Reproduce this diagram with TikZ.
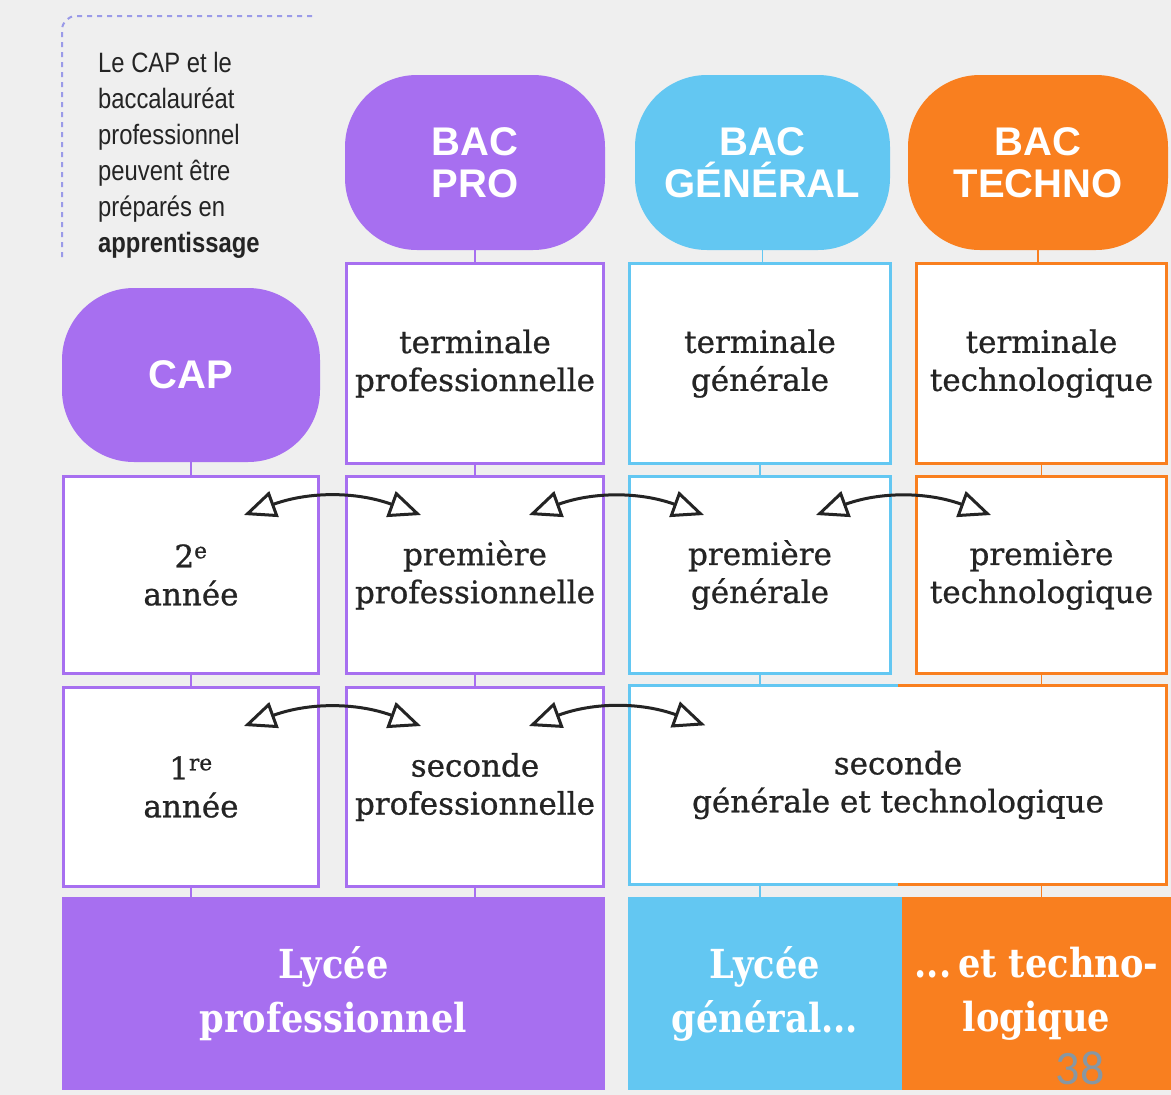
\documentclass[tikz,border=0pt]{standalone}
\usepackage{fontspec}
\usetikzlibrary{arrows.meta,calc}
\setmainfont{DejaVu Serif}[FakeBold=0.8]
\newfontfamily\notefont{Liberation Sans}[FakeStretch=0.85]
\newfontfamily\bubblefont{Liberation Sans}
\newfontfamily\bandfont{DejaVu Serif}[FakeStretch=0.88]
\newfontfamily\pagefont{Carlito}
\definecolor{propurple}{HTML}{A76FF0}
\definecolor{genblue}{HTML}{63C7F2}
\definecolor{techorange}{HTML}{F97F1F}
\definecolor{bggrey}{HTML}{EFEFEF}
\definecolor{inkgrey}{HTML}{242424}
\definecolor{pagegrey}{HTML}{8797A3}
\definecolor{notedash}{HTML}{9A9AE8}
\begin{document}
\begin{tikzpicture}[x=1pt,y=-1pt,
  bubblebox/.style={fill=#1,rounded corners=72pt,text=white,align=center,minimum width=260pt,minimum height=175pt,inner sep=0pt,font=\bubblefont\bfseries\fontsize{40}{42}\selectfont},
  yearbox/.style={draw=#1,line width=3pt,fill=white,align=center,text=inkgrey,minimum width=257pt,minimum height=197pt,inner sep=0pt,font=\fontsize{31}{38}\selectfont},
  bandbox/.style={fill=#1,text=white,align=center,minimum height=193pt,inner sep=0pt,font=\bandfont\bfseries\fontsize{40}{54}\selectfont},
  linkline/.style={draw=#1,line width=1.5pt},
  passage/.style={{Triangle[open,length=32pt,width=27pt]}-{Triangle[open,length=32pt,width=27pt]},line width=3pt,draw=inkgrey,bend left=20},
]
\fill[bggrey] (0,0) rectangle (1171,1095);
\useasboundingbox (0,0) rectangle (1171,1095);

% note
\draw[notedash,line width=2pt,dash pattern=on 5pt off 5pt,rounded corners=14pt] (312,16) -| (62,258);
\node[anchor=north west,align=left,text=inkgrey,inner sep=0pt,font=\notefont\fontsize{28}{36}\selectfont] (note) at (98,52)
  {Le CAP et le\\baccalauréat\\professionnel\\peuvent être\\préparés en\\\textbf{apprentissage}};

% bubbles
\node[bubblebox=propurple] (bacpro) at (475,162.5) {BAC\\PRO};
\node[bubblebox=genblue,minimum width=255pt] (bacgen) at (762.5,162.5) {BAC\\GÉNÉRAL};
\node[bubblebox=techorange] (bactech) at (1038,162.5) {BAC\\TECHNO};
\node[bubblebox=propurple,minimum width=258pt,minimum height=174pt] (cap) at (191,375) {CAP};

% terminale
\node[yearbox=propurple,minimum height=200pt] (termpro) at (475,363.5) {terminale\\professionnelle};
\node[yearbox=genblue,minimum width=261pt,minimum height=200pt] (termgen) at (760,363.5) {terminale\\générale};
\node[yearbox=techorange,minimum width=250pt,minimum height=200pt] (termtech) at (1041.5,363.5) {terminale\\technologique};

% premiere
\node[yearbox=propurple,minimum width=255pt] (an2) at (191,575) {2\textsuperscript{e}\\année};
\node[yearbox=propurple] (prempro) at (475,575) {première\\professionnelle};
\node[yearbox=genblue,minimum width=261pt] (premgen) at (760,575) {première\\générale};
\node[yearbox=techorange,minimum width=250pt] (premtech) at (1041.5,575) {première\\technologique};

% seconde
\node[yearbox=propurple,minimum width=255pt,minimum height=199pt] (an1) at (191,787) {1\textsuperscript{re}\\année};
\node[yearbox=propurple,minimum height=199pt] (secpro) at (475,787) {seconde\\professionnelle};
\node[fill=white,align=center,text=inkgrey,inner sep=0pt,minimum width=537pt,minimum height=199pt,font=\fontsize{31}{38}\selectfont] (secgt) at (898,785) {seconde\\générale et technologique};
\draw[genblue,line width=3pt] (secgt.north) -- (secgt.north west) -- (secgt.south west) -- (secgt.south);
\draw[techorange,line width=3pt] (secgt.north) -- (secgt.north east) -- (secgt.south east) -- (secgt.south);

% lycees
\node[bandbox=propurple,minimum width=543pt] (lycpro) at (333.5,993.5) {Lycée\\professionnel};
\node[bandbox=genblue,minimum width=274pt] (lycgen) at (765,993.5) {Lycée\\général...};
\node[bandbox=techorange,minimum width=269pt] (lyctech) at (1036.5,993.5) {...\,et techno-\\logique};
\node[text=pagegrey,font=\pagefont\fontsize{48}{48}\selectfont] (page) at (1080,1068) {38};

% links
\foreach \a/\b in {cap/an2,an2/an1,bacpro/termpro,termpro/prempro,prempro/secpro}
  \draw[linkline=propurple] (\a.south) -- (\b.north);
\foreach \a in {an1,secpro}
  \draw[linkline=propurple] (\a.south) -- (\a.south |- lycpro.north);
\draw[linkline=genblue] (bacgen.south) -- (bacgen.south |- termgen.north);
\draw[linkline=genblue] (termgen.south) -- (premgen.north);
\draw[linkline=genblue] (premgen.south) -- (premgen.south |- secgt.north);
\draw[linkline=genblue] (premgen.south |- secgt.south) -- (premgen.south |- lycgen.north);
\draw[linkline=techorange] (bactech.south) -- (bactech.south |- termtech.north);
\draw[linkline=techorange] (termtech.south) -- (premtech.north);
\draw[linkline=techorange] (premtech.south) -- (premtech.south |- secgt.north);
\draw[linkline=techorange] (premtech.south |- secgt.south) -- (premtech.south |- lyctech.north);

% passerelles
\foreach \l/\r in {an2/prempro,prempro/premgen,premgen/premtech,an1/secpro,secpro/secgt}
  \draw[passage] ([xshift=-76pt,yshift=-40pt]\l.north east) to ([xshift=76pt,yshift=-40pt]\r.north west);
\end{tikzpicture}
\end{document}
